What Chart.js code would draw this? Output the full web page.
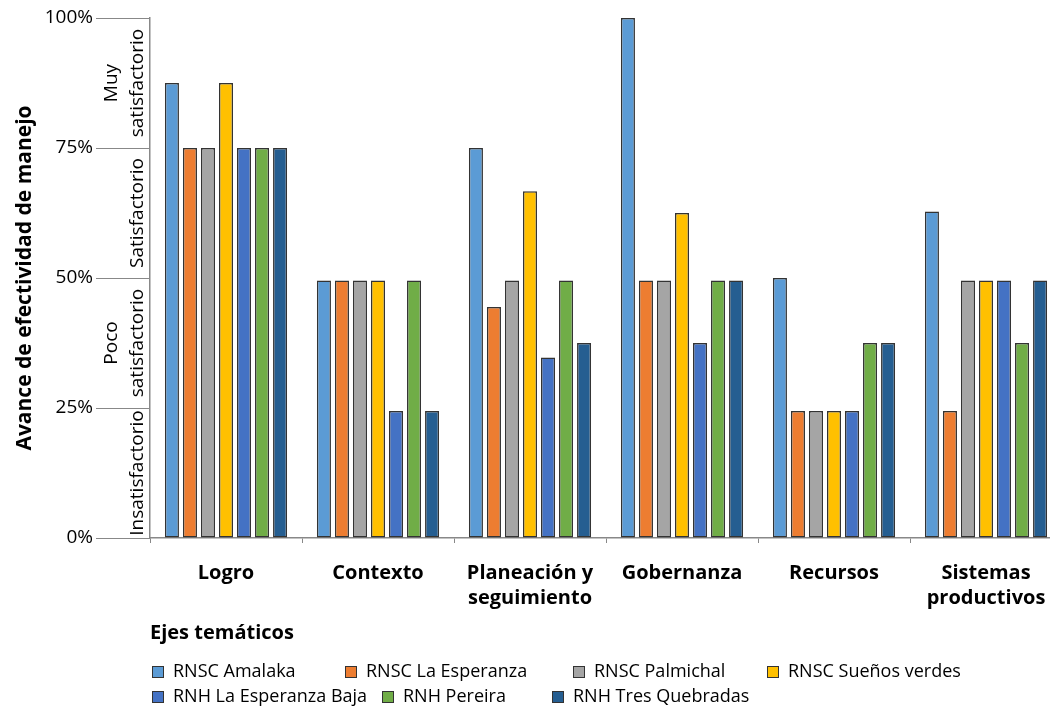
<!DOCTYPE html>
<html>
<head>
<meta charset="utf-8">
<script src="https://cdn.jsdelivr.net/npm/chart.js@4.4.0/dist/chart.umd.min.js"></script>
<style>
html,body{margin:0;padding:0;background:#fff;overflow:hidden;}
#wrap{width:1070px;height:711px;}
</style>
</head>
<body>
<div id="wrap"><canvas id="c" width="1070" height="711"></canvas></div>
<script>
const categories = ["Logro", "Contexto", ["Planeación y", "seguimiento"], "Gobernanza", "Recursos", ["Sistemas", "productivos"]];
const seriesNames = ["RNSC Amalaka", "RNSC La Esperanza", "RNSC Palmichal", "RNSC Sueños verdes", "RNH La Esperanza Baja", "RNH Pereira", "RNH Tres Quebradas"];
const amalaka        = [87.5, 49.5, 75,   100,  50,   62.8];
const laEsperanza    = [75,   49.5, 44.4, 49.5, 24.4, 24.4];
const palmichal      = [75,   49.5, 49.5, 49.5, 24.4, 49.5];
const suenosVerdes   = [87.5, 49.5, 66.7, 62.5, 24.4, 49.5];
const laEsperanzaBaja= [75,   24.4, 34.7, 37.5, 24.4, 49.5];
const pereira        = [75,   49.5, 49.5, 49.5, 37.5, 37.5];
const tresQuebradas  = [75,   24.4, 37.5, 49.5, 37.5, 49.5];
const yTicks = [0, 25, 50, 75, 100];
const bandLabels = [["Insatisfactorio"], ["Poco", "satisfactorio"], ["Satisfactorio"], ["Muy", "satisfactorio"]];
const colors = ["#5B9BD5", "#ED7D31", "#A5A5A5", "#FFC000", "#4472C4", "#70AD47", "#255E91"];
const seriesValues = [amalaka, laEsperanza, palmichal, suenosVerdes, laEsperanzaBaja, pereira, tresQuebradas];

const FONT = "'Open Sans', sans-serif";

const bandPlugin = {
  id: 'bands',
  afterDraw(chart) {
    const ctx = chart.ctx;
    const y = chart.scales.y;
    ctx.save();
    ctx.fillStyle = '#000';
    ctx.font = '19px ' + FONT;
    ctx.textAlign = 'center';
    ctx.textBaseline = 'alphabetic';
    for (let i = 0; i < bandLabels.length; i++) {
      const y0 = y.getPixelForValue(yTicks[i]);
      const y1 = y.getPixelForValue(yTicks[i + 1]);
      const yc = (y0 + y1) / 2;
      const lines = bandLabels[i];
      ctx.save();
      ctx.translate(143, yc);
      ctx.rotate(-Math.PI / 2);
      for (let k = 0; k < lines.length; k++) {
        const dy = -(lines.length - 1 - k) * 26;
        ctx.fillText(lines[k], 0, dy);
      }
      ctx.restore();
    }
    ctx.restore();
  }
};

const legendCols = [[152, 345, 573, 767], [152, 382, 552]];

const legendPlugin = {
  id: 'customLegend',
  afterDraw(chart) {
    const ctx = chart.ctx;
    ctx.save();
    ctx.font = '18px ' + FONT;
    ctx.textBaseline = 'middle';
    ctx.textAlign = 'left';
    const perRow = 4;
    const rowY = [672, 697];
    chart.data.datasets.forEach((ds, i) => {
      const row = Math.floor(i / perRow);
      const x = legendCols[row][i % perRow];
      const yy = rowY[row];
      ctx.fillStyle = ds.backgroundColor;
      ctx.fillRect(x, yy - 6, 12, 12);
      ctx.strokeStyle = '#333';
      ctx.lineWidth = 1;
      ctx.strokeRect(x + 0.5, yy - 5.5, 11, 11);
      ctx.fillStyle = '#000';
      ctx.fillText(ds.label, x + 21, yy);
    });
    ctx.restore();
  }
};

new Chart(document.getElementById('c'), {
  type: 'bar',
  data: {
    labels: categories,
    datasets: seriesNames.map((n, i) => ({
      label: n,
      data: seriesValues[i],
      backgroundColor: colors[i],
      borderColor: '#333',
      borderWidth: 1.5,
      borderSkipped: false,
      categoryPercentage: 0.83,
      barPercentage: 0.78
    }))
  },
  options: {
    responsive: false,
    animation: false,
    layout: { padding: { top: 18, right: 8, bottom: 63, left: 0 } },
    plugins: {
      legend: { display: false },
      tooltip: { enabled: false }
    },
    scales: {
      x: {
        offset: true,
        grid: { offset: true, drawOnChartArea: false, drawTicks: true, tickLength: 5, color: '#888' },
        border: { display: true, color: '#888', width: 1.5 },
        ticks: { color: '#000', font: { family: FONT, size: 20, weight: 'bold', lineHeight: 1.25 }, padding: 18, maxRotation: 0, autoSkip: false },
        title: { display: true, text: 'Ejes temáticos', align: 'start', color: '#000', font: { family: FONT, size: 20, weight: 'bold' }, padding: { top: 0, bottom: 3 } },
        afterFit(s) { s.height = 110; }
      },
      y: {
        min: 0, max: 100,
        afterBuildTicks(s) { s.ticks = yTicks.map(v => ({ value: v })); },
        grid: { drawOnChartArea: false, drawTicks: true, tickLength: 54, color: '#888' },
        border: { display: true, color: '#888', width: 1.5 },
        ticks: { color: '#000', font: { family: FONT, size: 19 }, padding: 3, callback: v => v + '%' },
        title: { display: true, text: 'Avance de efectividad de manejo', color: '#000', font: { family: FONT, size: 21, weight: 'bold' }, padding: { top: 12, bottom: 0 } },
        afterFit(s) { s.width = 150; }
      }
    }
  },
  plugins: [bandPlugin, legendPlugin]
});
</script>
</body>
</html>
